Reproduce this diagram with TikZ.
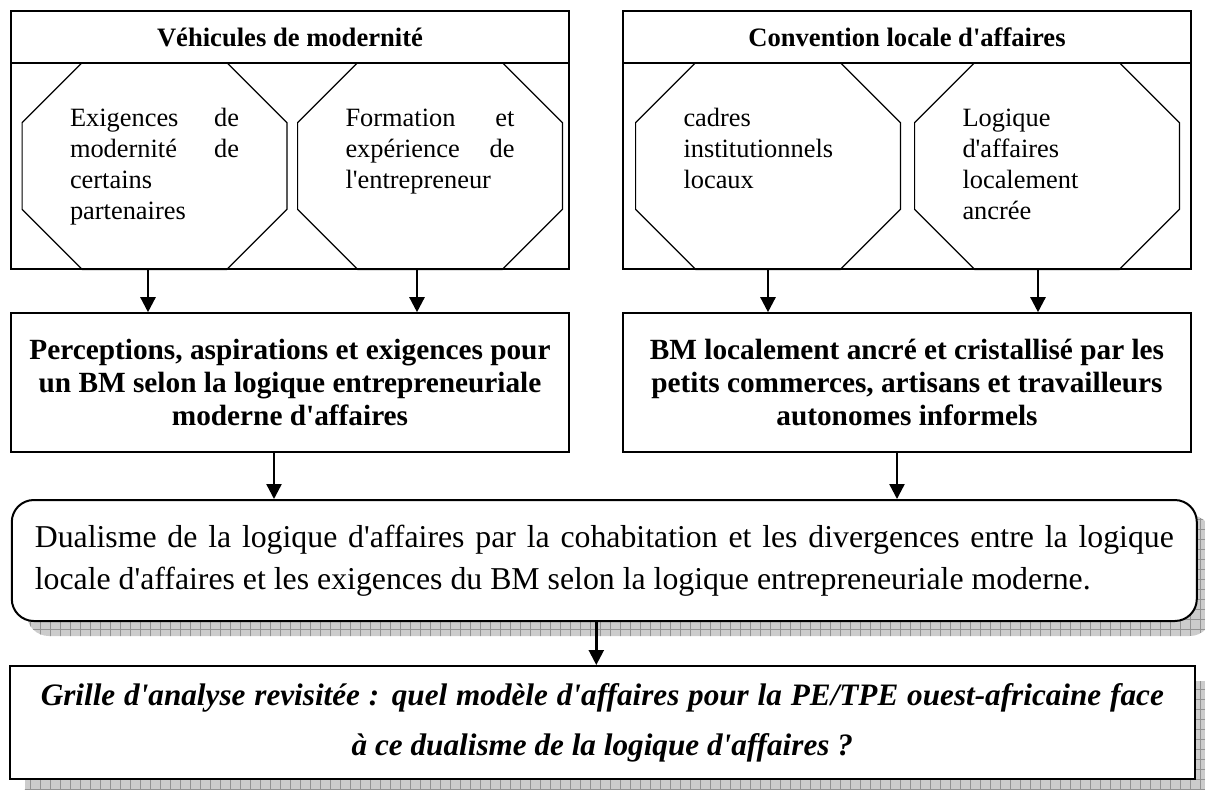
\documentclass[tikz,border=0pt]{standalone}
\usepackage{fontspec}
\newfontfamily\tnr{Liberation Serif}
\usetikzlibrary{positioning, arrows.meta, shadows, patterns.meta}

\begin{document}
\begin{tikzpicture}[x=0.5pt, y=-0.5pt]
    % Styles
    \tikzstyle{frame} = [rectangle, draw, line width=0.8pt, fill=white]
    \tikzstyle{head} = [frame, minimum height=26pt, font=\tnr\bfseries\fontsize{13.3}{16}\selectfont]
    \tikzstyle{octa} = [rectangle, minimum width=132pt, text width=84.5pt, align=flush left, inner sep=0pt, text height=31.5pt, text depth=71.5pt, font=\tnr\fontsize{13.2}{15.5}\selectfont]
    \tikzstyle{block} = [frame, minimum height=69.5pt, text width=270pt, align=flush center, inner sep=0pt, font=\tnr\bfseries\fontsize{14.65}{16.5}\selectfont]
    \tikzstyle{shadowed} = [drop shadow={shadow xshift=7.5pt, shadow yshift=-7.5pt, opacity=1, fill=gray!40, postaction={pattern={Hatch[angle=0, distance=5pt, line width=0.3pt]}, pattern color=gray!85}}]
    \tikzstyle{arr} = [-{Triangle[length=7.5pt, width=7.5pt]}, line width=1.2pt]

    \useasboundingbox (0,0) rectangle (1205,789);

    % Top frames
    \node[frame, minimum width=279pt, minimum height=129pt] (veh) at (290,140) {};
    \node[head, minimum width=279pt] (vehhead) at (290,37) {Véhicules de modernité};
    \node[frame, minimum width=284pt, minimum height=129pt] (conv) at (907,140) {};
    \node[head, minimum width=284pt] (convhead) at (907,37) {Convention locale d'affaires};

    % Octagons
    \node[octa] (exig) at (154.5,166) {Exigences\hfill de\\modernité\hfill de\\certains\\partenaires};
    \node[octa] (form) at (430,166) {Formation\hfill et\\expérience\hfill de\\l'entrepreneur};
    \node[octa] (cadr) at (768,166) {cadres\\institutionnels\\locaux};
    \node[octa] (logi) at (1047,166) {Logique\\d'affaires\\localement\\ancrée};
    \foreach \n in {exig,form,cadr,logi}
        \draw[line width=0.6pt] ([xshift=30pt]\n.north west) -- ([xshift=-30pt]\n.north east)
            -- ([yshift=-30pt]\n.north east) -- ([yshift=30pt]\n.south east)
            -- ([xshift=-30pt]\n.south east) -- ([xshift=30pt]\n.south west)
            -- ([yshift=30pt]\n.south west) -- ([yshift=-30pt]\n.north west) -- cycle;

    % Middle blocks
    \node[block, minimum width=279pt] (perc) at (290,382.5) {Perceptions, aspirations et exigences pour\\un BM selon la logique entrepreneuriale\\moderne d'affaires};
    \node[block, minimum width=284pt] (ancr) at (907,382.5) {BM localement ancré et cristallisé par les\\petits commerces, artisans et travailleurs\\autonomes informels};

    % Dualism
    \node[frame, rounded corners=11pt, line width=1pt, shadowed, minimum width=592.5pt, minimum height=60.5pt, text width=569.5pt, align=justify, inner sep=0pt, font=\tnr\fontsize{15.9}{21}\selectfont] (dual) at (604.3,560.5) {Dualisme de la logique d'affaires par la cohabitation et les divergences entre la logique\linebreak locale d'affaires et les exigences du BM selon la logique entrepreneuriale moderne.};

    % Revisited grid
    \node[frame, line width=1pt, shadowed, minimum width=592.5pt, minimum height=56.5pt, text width=561.5pt, align=flush center, inner sep=0pt, font=\tnr\bfseries\itshape\fontsize{15.6}{25}\selectfont] (grille) at (602.3,722.5) {\makebox[561.5pt][s]{\spaceskip=0pt\relax Grille d'analyse revisitée : quel modèle d'affaires pour la PE/TPE ouest-africaine face}\\à ce dualisme de la logique d'affaires ?};

    % Connections
    \draw[arr] ([xshift=-3.25pt]exig.south) -- ([xshift=-3.25pt]exig.south |- perc.north);
    \draw[arr] ([xshift=-6.5pt]form.south) -- ([xshift=-6.5pt]form.south |- perc.north);
    \draw[arr] (cadr.south) -- (cadr.south |- ancr.north);
    \draw[arr] ([xshift=-4.5pt]logi.south) -- ([xshift=-4.5pt]logi.south |- ancr.north);
    \draw[arr] ([xshift=-8pt]perc.south) -- ([xshift=-8pt]perc.south |- dual.north);
    \draw[arr] ([xshift=-5pt]ancr.south) -- ([xshift=-5pt]ancr.south |- dual.north);
    \draw[arr] ([xshift=-4pt]dual.south) -- ([xshift=-4pt]dual.south |- grille.north);
\end{tikzpicture}
\end{document}
